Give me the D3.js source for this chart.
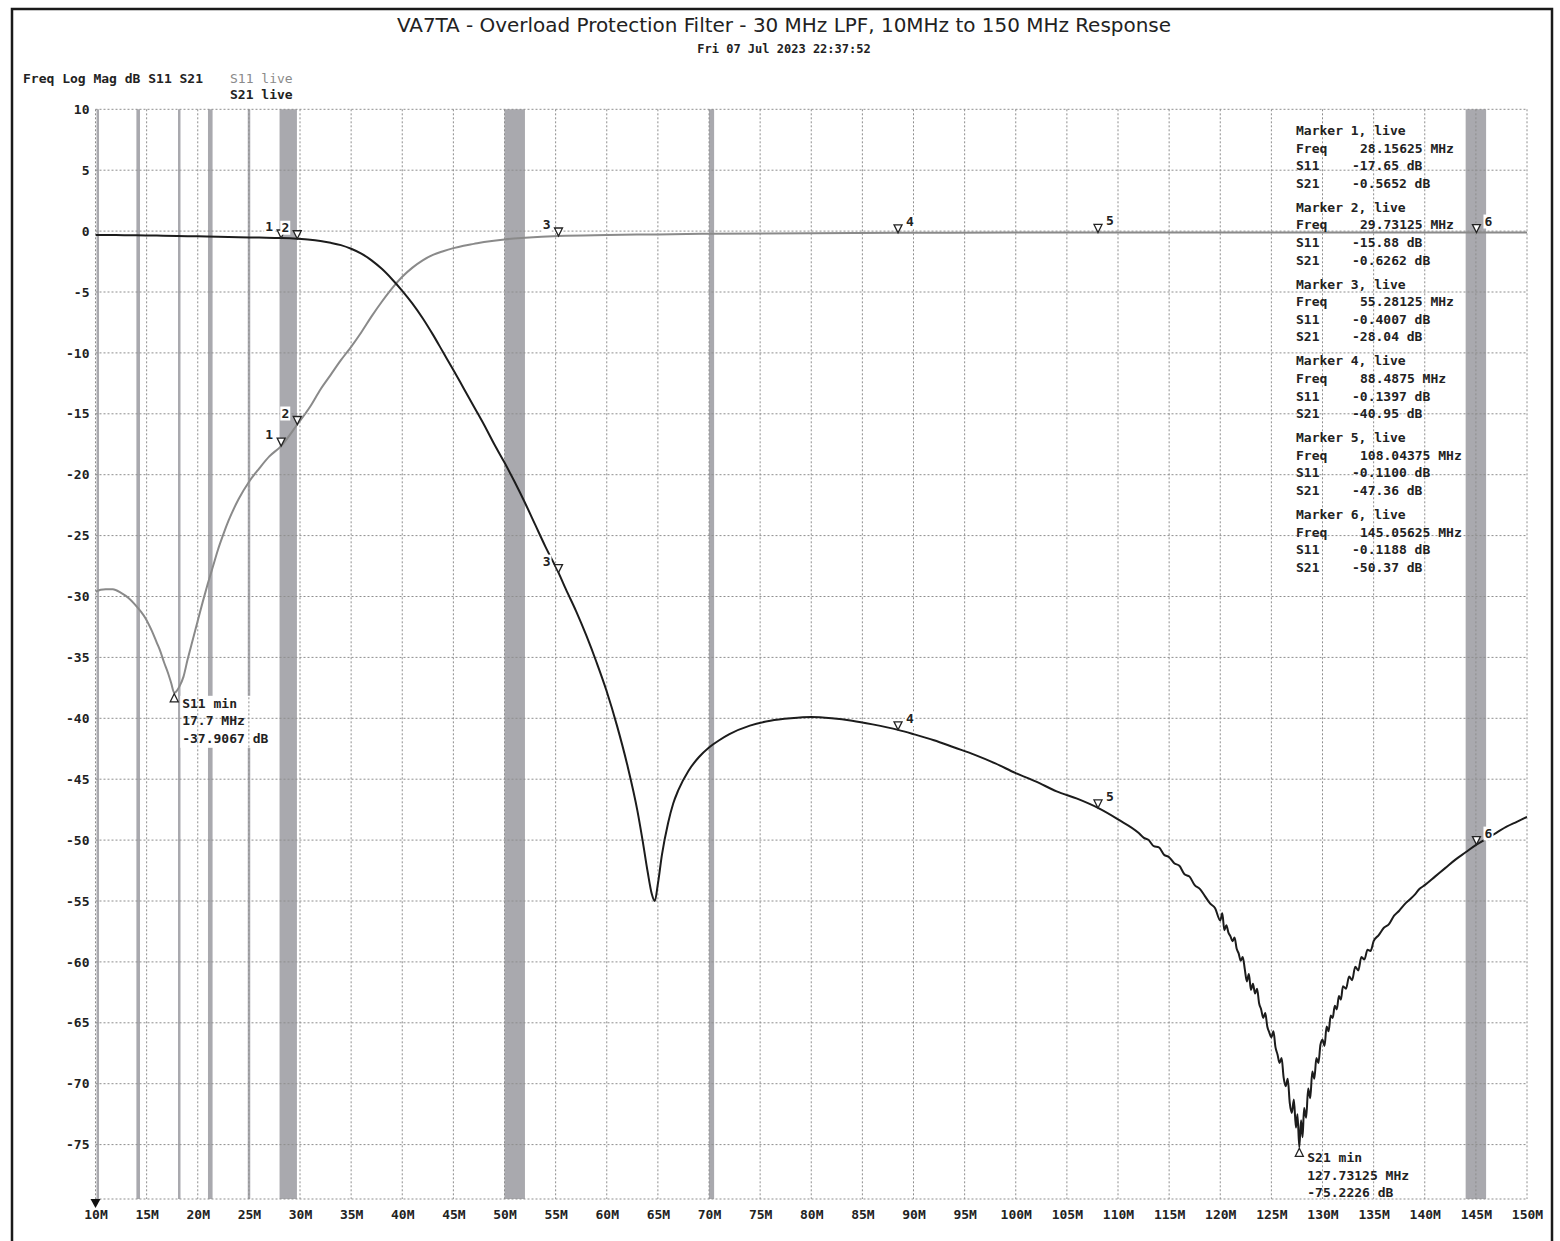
<!DOCTYPE html>
<html>
<head>
<meta charset="utf-8">
<script src="https://cdn.jsdelivr.net/npm/d3@7"></script>
<style>
  body { margin: 0; background: #fff; }
  svg text { font-family: "DejaVu Sans Mono", monospace; font-weight: bold; font-size: 13px; fill: #222; }
</style>
</head>
<body>
<svg id="chart" width="1560" height="1241"></svg>
<script>
// tick labels
const freqTicks = [10, 15, 20, 25, 30, 35, 40, 45, 50, 55, 60, 65, 70, 75, 80, 85, 90, 95, 100, 105, 110, 115, 120, 125, 130, 135, 140, 145, 150];
const dbTicks = [10, 5, 0, -5, -10, -15, -20, -25, -30, -35, -40, -45, -50, -55, -60, -65, -70, -75];

// highlighted bands (MHz)
const bandStart = [10.1, 14.0, 18.068, 21.0, 24.89, 28.0, 50.0, 70.0, 144.0];
const bandEnd = [10.15, 14.35, 18.168, 21.45, 24.99, 29.7, 52.0, 70.5, 146.0];

// S11 trace
const s11Freq = [10, 10.5, 11, 11.7, 12.5, 13.2, 13.8, 14.4, 14.9, 15.5, 16, 16.3, 16.7, 17.1, 17.4, 17.7, 17.9, 18.2, 18.6, 19, 19.5, 20, 20.5, 21, 21.5, 22, 22.5, 23, 24, 25, 26, 27, 28.15625, 29.73125, 31, 32, 33, 34, 35, 36, 37, 38, 39, 40, 41, 42, 43, 44, 45, 46, 47, 48, 50, 52, 55.28125, 60, 65, 70, 80, 88.4875, 100, 108.04375, 120, 130, 145.05625, 150];
const s11Db = [-29.6, -29.45, -29.4, -29.4, -29.7, -30.1, -30.6, -31.2, -31.8, -32.8, -33.8, -34.4, -35.4, -36.3, -37.1, -37.91, -37.8, -37.4, -36.6, -35.2, -33.6, -32.0, -30.4, -28.9, -27.5, -26.1, -24.9, -23.8, -22.0, -20.6, -19.5, -18.5, -17.65, -15.88, -14.4, -13.0, -11.8, -10.6, -9.5, -8.3, -7.0, -5.8, -4.7, -3.75, -3.0, -2.4, -1.95, -1.65, -1.4, -1.2, -1.05, -0.9, -0.68, -0.55, -0.4007, -0.32, -0.27, -0.22, -0.18, -0.1397, -0.12, -0.11, -0.11, -0.12, -0.1188, -0.12];

// S21 trace (ragged part near the deep notch)
const s21Freq = [10, 12, 14, 16, 18, 20, 22, 24, 26, 28.15625, 29.73125, 31, 32, 33, 34, 35, 36, 37, 38, 39, 40, 41, 42, 43, 44, 45, 46, 47, 48, 49, 50, 51, 52, 53, 54, 55.28125, 56, 57, 58, 59, 60, 61, 62, 63, 63.5, 64, 64.4, 64.7, 65.0, 65.4, 66, 66.5, 67, 68, 69, 70, 71, 72, 74, 76, 78, 80, 82, 84, 86, 88.4875, 90, 92, 94, 96, 98, 100, 102, 104, 106, 108.04375, 110, 112, 112.5, 113, 113.5, 114, 114.5, 115, 115.5, 116, 116.5, 117, 117.5, 118, 118.5, 119, 119.5, 120, 120.2, 120.4, 120.6, 120.8, 121, 121.2, 121.4, 121.6, 121.8, 122, 122.2, 122.4, 122.6, 122.8, 123, 123.2, 123.4, 123.6, 123.8, 124, 124.2, 124.4, 124.6, 124.8, 125, 125.2, 125.4, 125.6, 125.8, 126, 126.2, 126.4, 126.6, 126.8, 127, 127.2, 127.4, 127.55, 127.73125, 127.9, 128.05, 128.2, 128.4, 128.6, 128.8, 129, 129.2, 129.4, 129.6, 129.8, 130, 130.2, 130.4, 130.6, 130.8, 131, 131.2, 131.4, 131.6, 131.8, 132, 132.3, 132.6, 132.9, 133.2, 133.5, 133.8, 134.1, 134.4, 134.7, 135, 135.5, 136, 136.5, 137, 137.5, 138, 138.5, 139, 139.5, 140, 141, 142, 143, 144, 145.05625, 146, 147, 148, 149, 150];
const s21Db = [-0.32, -0.33, -0.35, -0.37, -0.40, -0.43, -0.46, -0.50, -0.53, -0.5652, -0.6262, -0.71, -0.82, -0.96, -1.15, -1.45, -1.85, -2.4, -3.1, -3.95, -4.9, -5.95, -7.15, -8.5, -9.95, -11.4, -12.9, -14.4, -15.9, -17.5, -19.0, -20.6, -22.3, -24.1, -25.9, -28.04, -29.4, -31.2, -33.2, -35.4, -37.8, -40.6, -43.8, -47.6, -50.0, -52.6, -54.4, -55.0, -53.6, -51.2, -48.6, -47.0, -45.9, -44.3, -43.2, -42.4, -41.8, -41.3, -40.6, -40.2, -40.0, -39.9, -40.0, -40.2, -40.5, -40.95, -41.3, -41.8, -42.4, -43.0, -43.7, -44.5, -45.2, -46.0, -46.6, -47.36, -48.3, -49.4, -49.8, -50.0, -50.5, -50.6, -51.2, -51.4, -51.9, -52.1, -52.8, -53.0, -53.7, -54.0, -54.6, -55.2, -55.6, -56.6, -56.0, -57.4, -57.0, -57.6, -57.9, -58.3, -58.0, -58.9, -59.3, -59.9, -59.6, -60.6, -61.6, -61.0, -62.3, -61.8, -62.6, -62.2, -63.4, -63.9, -64.6, -64.2, -65.3, -65.8, -66.2, -65.7, -67.0, -67.6, -68.3, -67.9, -69.5, -70.2, -69.6, -71.6, -72.4, -71.3, -73.6, -72.5, -75.22, -73.0, -74.4, -72.0, -72.8, -70.4, -71.2, -69.0, -69.6, -67.9, -68.3, -66.8, -66.4, -66.9, -65.3, -65.7, -64.4, -64.6, -63.6, -63.9, -62.8, -63.1, -62.0, -62.2, -61.2, -61.5, -60.4, -60.7, -59.6, -59.8, -59.0, -59.1, -58.3, -57.8, -57.2, -56.9, -56.2, -55.8, -55.3, -54.9, -54.5, -54.0, -53.7, -53.0, -52.3, -51.6, -51.0, -50.37, -49.9, -49.4, -48.9, -48.5, -48.1];

// markers
const markerFreq = [28.15625, 29.73125, 55.28125, 88.4875, 108.04375, 145.05625];
const markerS11 = [-17.65, -15.88, -0.4007, -0.1397, -0.1100, -0.1188];
const markerS21 = [-0.5652, -0.6262, -28.04, -40.95, -47.36, -50.37];

// min search results
const minNames = ["S11 min", "S21 min"];
const minFreq = [17.7, 127.73125];
const minDb = [-37.9067, -75.2226];

const svg = d3.select("#chart");
const plotLeft = 95.5, plotRight = 1527, plotTop = 109.3, plotBottom = 1199;

const x = d3.scaleLinear().domain([10, 150]).range([plotLeft, plotRight]);
const y = d3.scaleLinear().domain([10, -80]).range([plotTop, 1205.5]);

svg.append("rect")
  .attr("x", 12).attr("y", 9).attr("width", 1540).attr("height", 1300)
  .attr("fill", "none").attr("stroke", "#1a1a1a").attr("stroke-width", 2.5);

svg.append("defs").append("clipPath").attr("id", "plot")
  .append("rect").attr("x", plotLeft).attr("y", plotTop - 20)
  .attr("width", plotRight - plotLeft).attr("height", plotBottom - plotTop + 20);

// bands
svg.append("g").selectAll("rect")
  .data(bandStart)
  .join("rect")
  .attr("x", (d) => x(d))
  .attr("y", plotTop)
  .attr("width", (d, i) => Math.max(2.5, x(bandEnd[i]) - x(d)))
  .attr("height", plotBottom - plotTop)
  .attr("fill", "#a9a9ae");

// white boxes behind the min readouts
svg.append("g").selectAll("rect")
  .data(minFreq)
  .join("rect")
  .attr("x", (d) => x(d) + 6)
  .attr("y", (d, i) => y(minDb[i]) + 3)
  .attr("width", (d, i) => i === 0 ? 92 : 108)
  .attr("height", 52)
  .attr("fill", "#fff");

// grid
const grid = svg.append("g")
  .attr("stroke", "#8e8e8e").attr("stroke-width", 1).attr("stroke-dasharray", "2,2");
grid.selectAll("line.v")
  .data(freqTicks)
  .join("line")
  .attr("class", "v")
  .attr("x1", (d) => x(d)).attr("x2", (d) => x(d))
  .attr("y1", plotTop).attr("y2", plotBottom);
grid.selectAll("line.h")
  .data(dbTicks)
  .join("line")
  .attr("class", "h")
  .attr("x1", plotLeft).attr("x2", plotRight)
  .attr("y1", (d) => y(d)).attr("y2", (d) => y(d));
grid.append("line")
  .attr("x1", plotLeft).attr("x2", plotRight)
  .attr("y1", plotBottom).attr("y2", plotBottom);

// axes
const xAxis = svg.append("g")
  .attr("transform", `translate(0,${plotBottom})`)
  .call(d3.axisBottom(x).tickValues(freqTicks).tickFormat((d) => d + "M").tickSize(0).tickPadding(11));
const yAxis = svg.append("g")
  .attr("transform", `translate(${plotLeft},0)`)
  .call(d3.axisLeft(y).tickValues(dbTicks).tickFormat((d) => String(d)).tickSize(0).tickPadding(6));
[xAxis, yAxis].forEach((a) => {
  a.select(".domain").remove();
  a.selectAll("text").attr("fill", "#222");
  a.attr("font-family", null).attr("font-size", null);
});

// traces
const line = d3.line()
  .x((d) => x(d[0]))
  .y((d) => y(d[1]))
  .curve(d3.curveMonotoneX);
const traces = svg.append("g").attr("clip-path", "url(#plot)").attr("fill", "none");
traces.append("path")
  .attr("d", line(d3.zip(s11Freq, s11Db)))
  .attr("stroke", "#8a8a8a").attr("stroke-width", 2).attr("stroke-linejoin", "round");
traces.append("path")
  .attr("d", line(d3.zip(s21Freq, s21Db)))
  .attr("stroke", "#1c1c1c").attr("stroke-width", 2).attr("stroke-linejoin", "round");

// marker triangles + numbers
const markerLayer = svg.append("g");
const drawMarker = (f, db, i) => {
  const px = x(f), py = y(db);
  const onLeft = i < 3;
  markerLayer.append("path")
    .attr("d", `M${px - 4},${py - 8}L${px + 4},${py - 8}L${px},${py}Z`)
    .attr("fill", "#fff").attr("stroke", "#222").attr("stroke-width", 1.3);
  const tx = onLeft ? px - 8 : px + 8;
  markerLayer.append("rect")
    .attr("x", onLeft ? tx - 9 : tx - 1).attr("y", py - 18)
    .attr("width", 10).attr("height", 14).attr("fill", "#fff");
  markerLayer.append("text")
    .attr("x", tx).attr("y", py - 7)
    .attr("text-anchor", onLeft ? "end" : "start")
    .text(i + 1);
};
markerFreq.forEach((f, i) => drawMarker(f, markerS21[i], i));
markerFreq.forEach((f, i) => drawMarker(f, markerS11[i], i));

// min readouts
minFreq.forEach((f, i) => {
  const px = x(f), py = y(minDb[i]);
  markerLayer.append("path")
    .attr("d", `M${px},${py + 1}L${px - 4},${py + 9}L${px + 4},${py + 9}Z`)
    .attr("fill", "#fff").attr("stroke", "#222").attr("stroke-width", 1.3);
  const lines = [minNames[i], f + " MHz", minDb[i] + " dB"];
  markerLayer.append("g").selectAll("text")
    .data(lines)
    .join("text")
    .attr("x", px + 8)
    .attr("y", (d, k) => py + 15 + k * 17.5)
    .text((d) => d);
});

// start pointer
svg.append("path")
  .attr("d", `M${x(10) - 5},${plotBottom}L${x(10) + 5},${plotBottom}L${x(10)},${plotBottom + 9}Z`)
  .attr("fill", "#111");

// marker readout table
const table = svg.append("g");
markerFreq.forEach((f, i) => {
  const y0 = 135 + i * 76.8;
  const rows = [
    [`Marker ${i + 1}, live`, null],
    ["Freq", f + " MHz"],
    ["S11", markerS11[i].toPrecision(4) + " dB"],
    ["S21", markerS21[i].toPrecision(4) + " dB"]
  ];
  rows.forEach((r, k) => {
    table.append("text").attr("x", 1296).attr("y", y0 + k * 17.6).text(r[0]);
    if (r[1]) {
      table.append("text").attr("x", k === 1 ? 1360 : 1352).attr("y", y0 + k * 17.6).text(r[1]);
    }
  });
});

// headings
svg.append("text")
  .attr("x", 784).attr("y", 32)
  .attr("text-anchor", "middle")
  .attr("textLength", 774).attr("lengthAdjust", "spacingAndGlyphs")
  .style("font-family", "'DejaVu Sans Condensed', 'DejaVu Sans', sans-serif")
  .style("font-weight", "normal").style("font-size", "20px")
  .text("VA7TA - Overload Protection Filter - 30 MHz LPF, 10MHz to 150 MHz Response");
svg.append("text")
  .attr("x", 784).attr("y", 53)
  .attr("text-anchor", "middle")
  .style("font-size", "12px")
  .text("Fri 07 Jul 2023 22:37:52");
svg.append("text").attr("x", 23).attr("y", 83).text("Freq Log Mag dB S11 S21");
svg.append("text").attr("x", 230).attr("y", 83)
  .style("font-weight", "normal").style("fill", "#8a8a8a").text("S11 live");
svg.append("text").attr("x", 230).attr("y", 99).text("S21 live");
</script>
</body>
</html>
